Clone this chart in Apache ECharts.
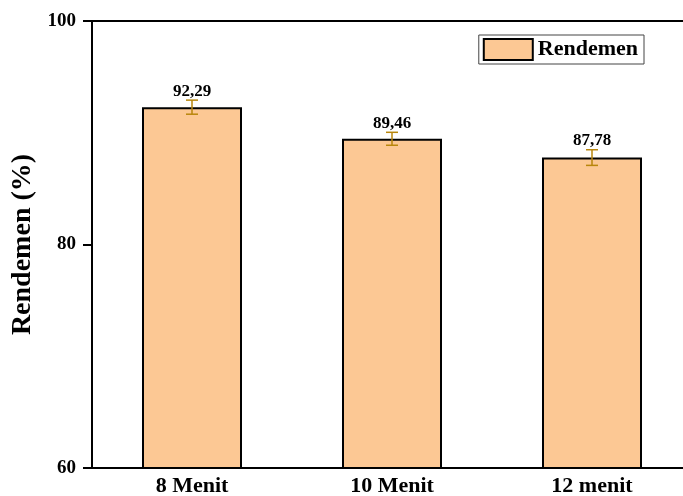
<!DOCTYPE html>
<html>
<head>
<meta charset="utf-8">
<script src="https://cdn.jsdelivr.net/npm/echarts@6/dist/echarts.min.js"></script>
<style>
  html, body { margin: 0; padding: 0; background: #fff; }
  #chart { width: 683px; height: 496px; }
</style>
</head>
<body>
<div id="chart"></div>
<script>
// Yield per extraction time, with standard deviation
const categories = ['8 Menit', '10 Menit', '12 menit'];
const rendemen = [92.29, 89.46, 87.78];
const stdDev = [0.63, 0.58, 0.70];
const yTicks = [60, 80, 100];

const FONT = '"Liberation Serif", "Times New Roman", serif';
const ERR_COLOR = '#b8860b';

const errorData = categories.map((c, i) => [i, rendemen[i], stdDev[i]]);

const chart = echarts.init(document.getElementById('chart'));

chart.setOption({
  animation: false,
  grid: { left: 92, right: -9, top: 21, bottom: 28, containLabel: false, outerBoundsMode: 'none' },
  legend: {
    right: 39,
    top: 35,
    orient: 'vertical',
    padding: [3, 6, 3, 4],
    borderColor: '#444',
    borderWidth: 1,
    icon: 'rect',
    itemWidth: 49,
    itemHeight: 21,
    itemGap: 4,
    textStyle: { fontFamily: FONT, fontWeight: 'bold', fontSize: 22, color: '#000' },
    data: [{ name: 'Rendemen', itemStyle: { borderColor: '#000', borderWidth: 2 } }]
  },
  xAxis: [
    {
      type: 'category',
      data: categories,
      position: 'bottom',
      axisLine: { lineStyle: { color: '#000', width: 2 } },
      axisTick: { inside: true, length: 4, lineStyle: { width: 2, color: '#000' } },
      axisLabel: { fontFamily: FONT, fontWeight: 'bold', fontSize: 22, color: '#000', margin: 7 }
    },
    {
      type: 'category',
      data: categories,
      position: 'top',
      axisLine: { lineStyle: { color: '#000', width: 2 } },
      axisTick: { inside: true, length: 4, lineStyle: { width: 2, color: '#000' } },
      axisLabel: { show: false }
    }
  ],
  yAxis: {
    type: 'value',
    min: 60,
    max: 100,
    interval: 20,
    name: 'Rendemen (%)',
    nameLocation: 'middle',
    nameGap: 52,
    nameTextStyle: { fontFamily: FONT, fontWeight: 'bold', fontSize: 28, color: '#000' },
    axisLine: { show: true, lineStyle: { color: '#000', width: 2 } },
    axisTick: { show: true, inside: false, length: 9, lineStyle: { width: 2, color: '#000' } },
    axisLabel: {
      fontFamily: FONT, fontWeight: 'bold', fontSize: 19, color: '#000', margin: 16,
      formatter: v => (yTicks.indexOf(v) >= 0 ? String(v) : '')
    },
    splitLine: { show: false }
  },
  series: [
    {
      name: 'Rendemen',
      type: 'bar',
      data: rendemen,
      barWidth: '50%',
      itemStyle: { color: '#fcc894', borderColor: '#000', borderWidth: 2 }
    },
    {
      name: 'sd',
      type: 'custom',
      data: errorData,
      z: 10,
      renderItem: function (params, api) {
        const x = api.value(0);
        const v = api.value(1);
        const sd = api.value(2);
        const top = api.coord([x, v + sd]);
        const bot = api.coord([x, v - sd]);
        const half = 6;
        const style = { stroke: ERR_COLOR, lineWidth: 1.5 };
        const label = v.toFixed(2).replace('.', ',');
        return {
          type: 'group',
          children: [
            { type: 'line', shape: { x1: top[0], y1: top[1], x2: bot[0], y2: bot[1] }, style },
            { type: 'line', shape: { x1: top[0] - half, y1: top[1], x2: top[0] + half, y2: top[1] }, style },
            { type: 'line', shape: { x1: bot[0] - half, y1: bot[1], x2: bot[0] + half, y2: bot[1] }, style },
            {
              type: 'text',
              style: {
                text: label, x: top[0], y: top[1] - 9,
                align: 'center', verticalAlign: 'middle',
                fontFamily: FONT, fontWeight: 'bold', fontSize: 17, fill: '#000'
              }
            }
          ]
        };
      }
    }
  ]
});
</script>
</body>
</html>
